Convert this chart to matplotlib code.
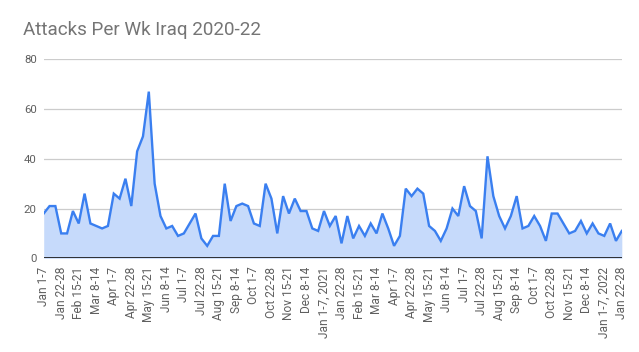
import matplotlib
matplotlib.use("Agg")
import matplotlib.pyplot as plt

title = "Attacks Per Wk Iraq 2020-22"

attacks = [18, 21, 21, 10, 10, 19, 14, 26, 14, 13, 12, 13, 26, 24, 32, 21, 43, 49, 67, 30, 17, 12, 13, 9,
           10, 14, 18, 8, 5, 9, 9, 30, 15, 21, 22, 21, 14, 13, 30, 24, 10, 25, 18, 24, 19, 19, 12, 11,
           19, 13, 17, 6, 17, 8, 13, 9, 14, 10, 18, 12, 5, 9, 28, 25, 28, 26, 13, 11, 7, 12, 20, 17,
           29, 21, 19, 8, 41, 25, 17, 12, 17, 25, 12, 13, 17, 13, 7, 18, 18, 14, 10, 11, 15, 10, 14, 10,
           9, 14, 7, 11]

tick_labels = ["Jan 1-7", "Jan 22-28", "Feb 15-21", "Mar 8-14", "Apr 1-7", "Apr 22-28", "May 15-21",
               "Jun 8-14", "Jul 1-7", "Jul 22-28", "Aug 15-21", "Sep 8-14", "Oct 1-7", "Oct 22-28",
               "Nov 15-21", "Dec 8-14", "Jan 1-7, 2021", "Jan 22-28", "Feb 15-21", "Mar 8-14", "Apr 1-7",
               "Apr 22-28", "May 15-21", "Jun 8-14", "Jul 1-7", "Jul 22-28", "Aug 15-21", "Sep 8-14",
               "Oct 1-7", "Oct 22-28", "Nov 15-21", "Dec 8-14", "Jan 1-7, 2022", "Jan 22-28"]
tick_step = 3
y_ticks = [0, 20, 40, 60, 80]

plt.rcParams['font.family'] = ['Roboto', 'DejaVu Sans']

fig = plt.figure(figsize=(6.39, 3.52), dpi=100)
ax = fig.add_axes([43.7/639, 1-258.3/352, (621.8-43.7)/639, (258.3-59.3)/352])

x = list(range(len(attacks)))
line_color = "#3a7ff0"
ax.fill_between(x, attacks, 0, color="#c6dafb", lw=0, zorder=2)
ax.plot(x, attacks, color=line_color, lw=1.7, zorder=3, solid_joinstyle='miter')

ax.set_xlim(0, len(attacks) - 1)
ax.set_ylim(0, 80)
ax.set_yticks(y_ticks)
ax.set_yticklabels([str(v) for v in y_ticks], color="#5f5f5f", fontsize=8.2)
ax.set_xticks(x[::tick_step])
ax.set_xticklabels(tick_labels, rotation=90, color="#5f5f5f", fontsize=8.6)
ax.tick_params(axis='both', length=0)
ax.tick_params(axis='y', pad=5)
ax.tick_params(axis='x', pad=6)

for v in y_ticks[1:]:
    ax.axhline(v, color="#cccccc", lw=0.9, zorder=1)
ax.axhline(0, color="#222222", lw=1.3, zorder=4)

for s in ax.spines.values():
    s.set_visible(False)

fig.text(23/639, 1-30/352, title, fontsize=13.6, color="#757575", ha='left', va='center')

fig.savefig("out.png", dpi=100)
